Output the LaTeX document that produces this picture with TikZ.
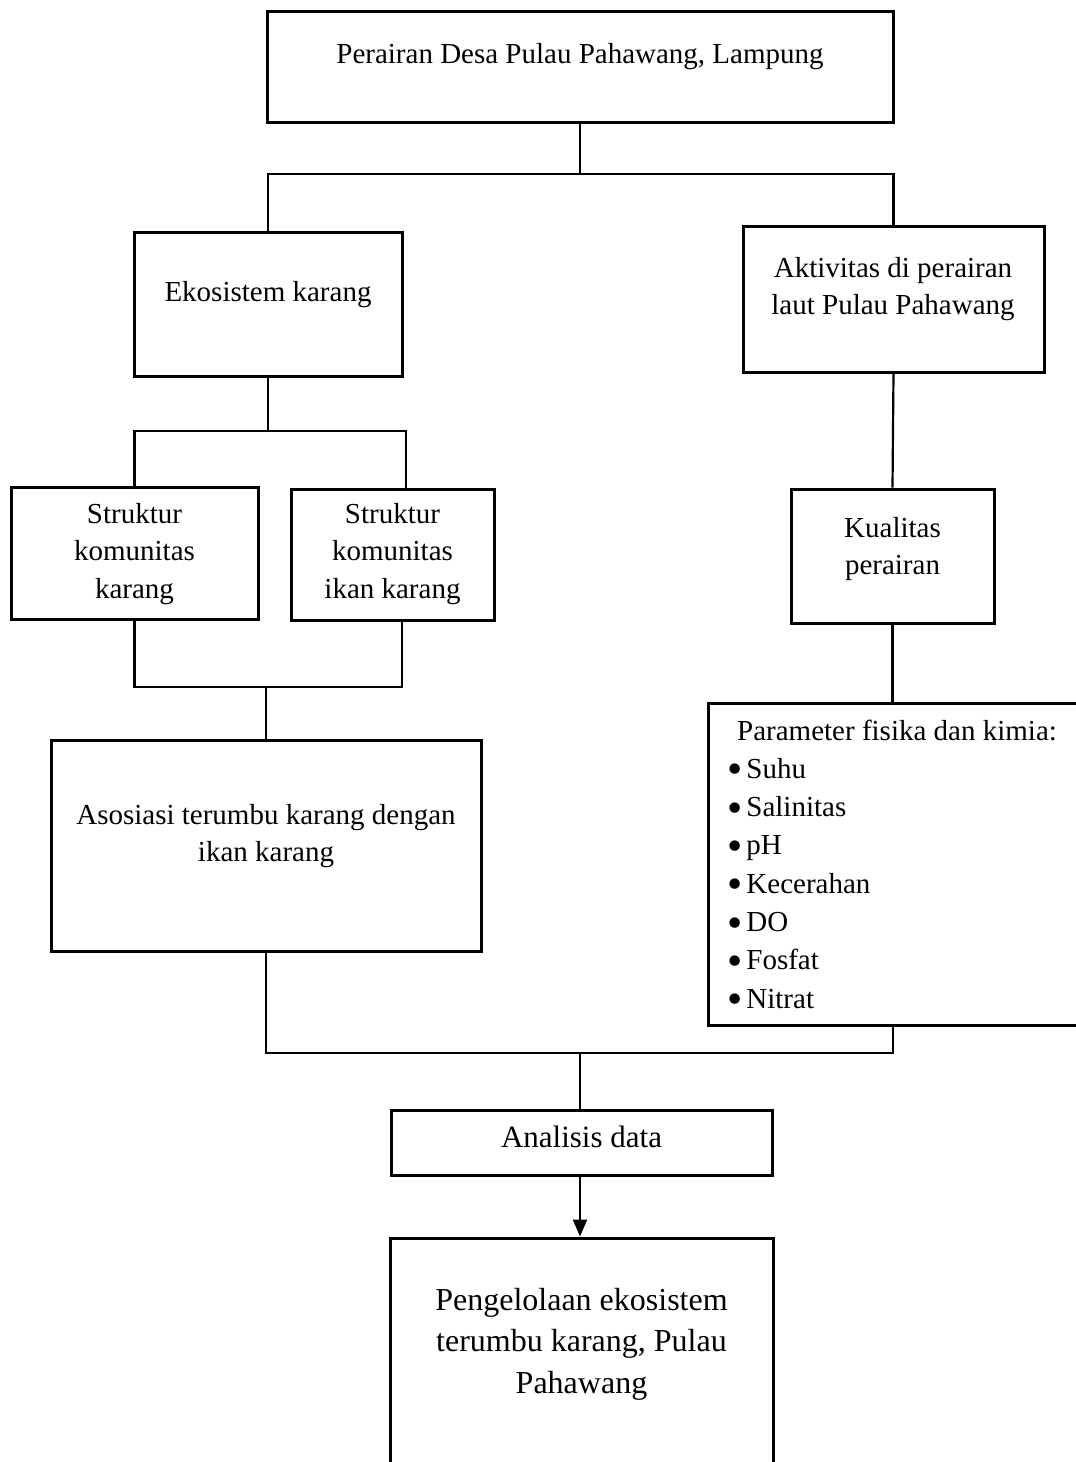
\documentclass[tikz,border=0pt]{standalone}
\usepackage{fontspec}
\setmainfont{Liberation Serif}
\usetikzlibrary{arrows.meta}
\begin{document}
\begin{tikzpicture}[x=1pt,y=-1pt,
  box/.style={draw, line width=3pt, rectangle, inner sep=0pt},
  txt/.style={font=\fontsize{29}{37.5}\selectfont, align=center, inner sep=0pt},
  conn/.style={line width=2.2pt}]
\useasboundingbox (0,0) rectangle (1076,1462);
\clip (0,0) rectangle (1076,1462);
\fill[white] (0,0) rectangle (1076,1462);

% boxes
\node[box, minimum width=626pt, minimum height=111pt] (top)  at (580,66.5) {};
\node[box, minimum width=268pt, minimum height=144pt] (eko)  at (268,304) {};
\node[box, minimum width=301pt, minimum height=146pt] (akt)  at (893.5,299) {};
\node[box, minimum width=247pt, minimum height=132pt] (s1)   at (134.5,553) {};
\node[box, minimum width=203pt, minimum height=131pt] (s2)   at (392.5,554.5) {};
\node[box, minimum width=430pt, minimum height=211pt] (asos) at (266,845.5) {};
\node[box, minimum width=203pt, minimum height=134pt] (kual) at (892.5,556) {};
\node[box, minimum width=382pt, minimum height=322pt] (par)  at (899,864) {};
\node[box, minimum width=381pt, minimum height=65pt]  (anal) at (581.5,1142.5) {};
\node[box, minimum width=383pt, minimum height=242pt] (peng) at (581.5,1359) {};

% texts
\node[txt] (toptxt)  at (580,57) {Perairan Desa Pulau Pahawang, Lampung};
\node[txt] (ekotxt)  at (268,295) {Ekosistem karang};
\node[txt] (akttxt)  at (893,289) {Aktivitas di perairan\\laut Pulau Pahawang};
\node[txt] (s1txt)   at (134.5,554) {Struktur\\komunitas\\karang};
\node[txt] (s2txt)   at (392.5,554) {Struktur\\komunitas\\ikan karang};
\node[txt] (asostxt) at (266,836) {Asosiasi terumbu karang dengan\\ikan karang};
\node[txt] (kualtxt) at (892.5,549) {Kualitas\\perairan};
\node[txt, font=\fontsize{31}{37.5}\selectfont] (analtxt) at (581.5,1137) {Analisis data};
\node[txt, font=\fontsize{32}{41.5}\selectfont] (pengtxt) at (581.5,1344) {Pengelolaan ekosistem\\terumbu karang, Pulau\\Pahawang};
\node[txt, anchor=base west] (ptitle) at (737,740) {Parameter fisika dan kimia:};
\foreach \t [count=\i] in {Suhu,Salinitas,pH,Kecerahan,DO,Fosfat,Nitrat}
  \node[txt, anchor=base west] (pitem\i) at (727,740+38.3*\i) {\raisebox{-5.5pt}[0pt][0pt]{\scalebox{1.5}{\textbullet}}\hspace{4pt}\t};

% junctions
\coordinate (j1) at (580,174);
\coordinate (j2) at (268,431);
\coordinate (s2top) at (406,489);
\coordinate (j3) at (266,687);
\coordinate (s2bot) at (402,620);
\coordinate (j4) at (580,1053);
\coordinate (pbot) at (893,1025);

% connectors
\draw[conn] (top.south) -- (j1);
\draw[conn] (eko.north) |- (j1) -| (akt.north);
\draw[conn] (eko.south) -- (j2);
\draw[conn] (s1.north) |- (j2) -| (s2top);
\draw[conn] (s1.south) |- (j3) -| (s2bot);
\draw[conn] (j3) -- (asos.north);
\draw[conn] (akt.south) -- (kual.north);
\draw[conn] (kual.south) -- (kual.south |- par.north);
\draw[conn] (asos.south) |- (j4) -| (pbot);
\draw[conn] (j4) -- (j4 |- anal.north);
\draw[conn, -{Triangle[width=14pt,length=17pt]}] (anal.south -| j4) -- (peng.north -| j4);
\end{tikzpicture}
\end{document}
